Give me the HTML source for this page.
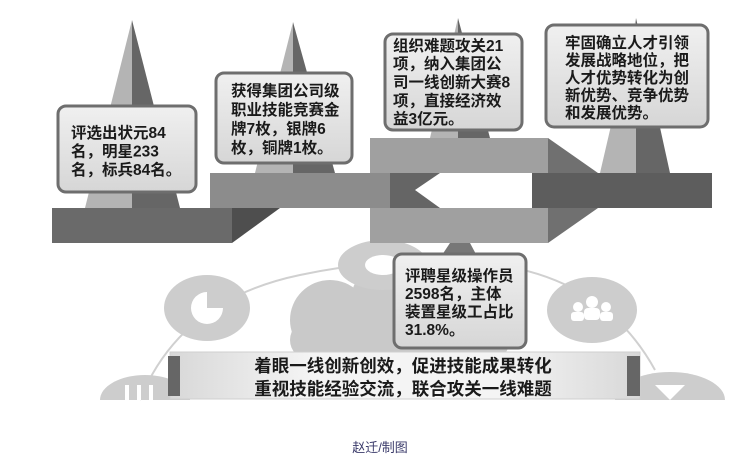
<!DOCTYPE html>
<html><head><meta charset="utf-8"><style>
html,body{margin:0;padding:0;background:#fff;}
svg{display:block;}
text{font-family:"Liberation Sans","Noto Sans CJK SC",sans-serif;font-weight:bold;fill:#1a1a1a;}
</style></head><body>
<svg width="751" height="465" viewBox="0 0 751 465" xmlns="http://www.w3.org/2000/svg">
<defs>
<linearGradient id="bx" x1="0" y1="0" x2="0" y2="1"><stop offset="0" stop-color="#f0f0f0"/><stop offset="1" stop-color="#d6d6d6"/></linearGradient>
<linearGradient id="bn" x1="0" y1="0" x2="1" y2="0"><stop offset="0" stop-color="#d8d8d8"/><stop offset="0.3" stop-color="#f4f4f4"/><stop offset="0.7" stop-color="#f4f4f4"/><stop offset="1" stop-color="#d8d8d8"/></linearGradient>
</defs>
<path d="M140,400 Q180,300 300,275 Q380,258 470,262 Q600,270 655,370" fill="none" stroke="#d0d0d0" stroke-width="2"/>
<g fill="#c9c9c9">
<circle cx="330" cy="320" r="40"/><circle cx="400" cy="305" r="50"/><circle cx="470" cy="320" r="35"/><rect x="290" y="320" width="220" height="40" rx="20"/>
</g>
<ellipse cx="207" cy="308" rx="43" ry="33" fill="#cdcdcd"/>
<path d="M207,292 A16,16 0 1 0 223,308 L207,308 Z" fill="#fff"/>
<ellipse cx="383" cy="265" rx="45" ry="25" fill="#cdcdcd"/>
<ellipse cx="383" cy="265" rx="18" ry="10" fill="#fff"/>
<ellipse cx="592" cy="310" rx="45" ry="33" fill="#cdcdcd"/>
<g fill="#fff"><circle cx="592" cy="302" r="6"/><rect x="584" y="308" width="16" height="12" rx="4"/><circle cx="578" cy="307" r="5"/><rect x="571" y="312" width="13" height="9" rx="3"/><circle cx="606" cy="307" r="5"/><rect x="600" y="312" width="13" height="9" rx="3"/></g>
<path d="M615,400 A55,28 0 0 1 725,400 Z" fill="#cdcdcd"/>
<path d="M655,385 L685,385 L670,400 Z" fill="#fff"/>
<path d="M100,400 A45,25 0 0 1 190,400 Z" fill="#cdcdcd"/>
<g fill="#fff"><rect x="125" y="385" width="4" height="15"/><rect x="137" y="385" width="4" height="15"/><rect x="149" y="385" width="4" height="15"/></g>

<polygon points="132,20 85,208 132,208" fill="#b4b4b4"/><polygon points="132,20 180,208 132,208" fill="#666"/>
<polygon points="293,22 255,173 293,173" fill="#b4b4b4"/><polygon points="293,22 335,173 293,173" fill="#666"/>
<polygon points="458,18 430,138 458,138" fill="#b4b4b4"/><polygon points="458,18 490,138 458,138" fill="#666"/>
<polygon points="636,18 600,173 636,173" fill="#b4b4b4"/><polygon points="636,18 670,173 636,173" fill="#666"/>
<polygon points="450,243 440,258 478,258 470,243" fill="#777"/>

<rect x="52" y="208" width="180" height="35" fill="#6a6a6a"/>
<polygon points="232,208 280,173 280,208 232,243" fill="#4e4e4e"/>
<rect x="210" y="173" width="165" height="35" fill="#8c8c8c"/>
<rect x="370" y="138" width="178" height="35" fill="#a0a0a0"/>
<polygon points="548,138 598,173 548,173" fill="#707070"/>
<rect x="370" y="208" width="178" height="35" fill="#a0a0a0"/>
<polygon points="548,208 598,208 548,243" fill="#707070"/>
<rect x="370" y="173" width="20" height="35" fill="#8c8c8c"/>
<rect x="390" y="173" width="142" height="35" fill="#656565"/>
<polygon points="415,190 440,173 532,173 532,208 440,208" fill="#fff"/>
<rect x="532" y="173" width="180" height="35" fill="#5d5d5d"/>

<g stroke="#6e6e6e" stroke-width="3" fill="url(#bx)">
<rect x="58" y="106" width="138" height="86" rx="8"/>
<rect x="216" y="73" width="136" height="90" rx="8"/>
<rect x="385" y="34" width="137" height="96" rx="8"/>
<rect x="546" y="25" width="162" height="102" rx="8"/>
<rect x="394" y="254" width="132" height="94" rx="8"/>
</g>
<g font-size="15.5">
<text x="71" y="138">评选出状元84</text><text x="71" y="156.5">名，明星233</text><text x="71" y="175">名，标兵84名。</text>
<text x="231" y="96">获得集团公司级</text><text x="231" y="115">职业技能竞赛金</text><text x="231" y="134">牌7枚，银牌6</text><text x="231" y="153">枚，铜牌1枚。</text>
<text x="393" y="51">组织难题攻关21</text><text x="393" y="69">项，纳入集团公</text><text x="393" y="87.5">司一线创新大赛8</text><text x="393" y="106">项，直接经济效</text><text x="393" y="124">益3亿元。</text>
<text x="565" y="48">牢固确立人才引领</text><text x="565" y="65.5">发展战略地位，把</text><text x="565" y="83">人才优势转化为创</text><text x="565" y="100.5">新优势、竞争优势</text><text x="565" y="118">和发展优势。</text>
<text x="405" y="281">评聘星级操作员</text><text x="405" y="299">2598名，主体</text><text x="405" y="317">装置星级工占比</text><text x="405" y="335">31.8%。</text>
</g>

<rect x="170" y="352" width="470" height="47" fill="url(#bn)" stroke="#cfcfcf"/>
<rect x="168" y="356" width="12" height="40" fill="#666"/>
<rect x="627" y="356" width="13" height="40" fill="#666"/>
<text x="403" y="372" font-size="17.5" text-anchor="middle">着眼一线创新创效，促进技能成果转化</text>
<text x="403" y="395" font-size="17.5" text-anchor="middle">重视技能经验交流，联合攻关一线难题</text>

<text x="380" y="452" font-size="13" text-anchor="middle" style="font-weight:normal;fill:#3b3b6b">赵迁/制图</text>
</svg>
</body></html>
